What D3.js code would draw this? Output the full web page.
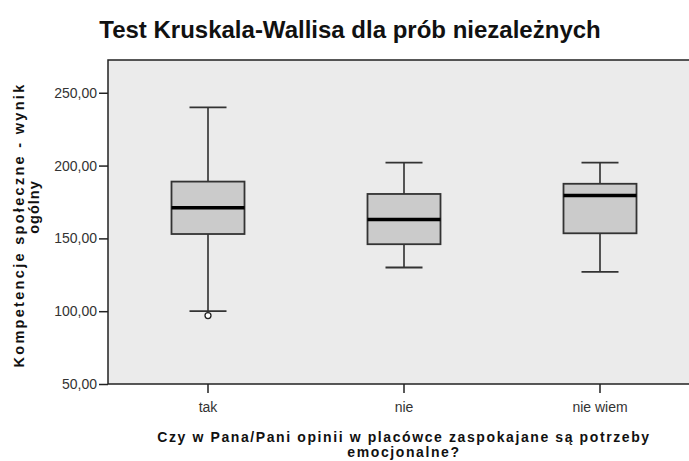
<!DOCTYPE html>
<html>
<head>
<meta charset="utf-8">
<script src="https://cdn.jsdelivr.net/npm/d3@7"></script>
<style>
  body { margin: 0; background: #fff; }
  svg { display: block; font-family: "Liberation Sans", Arial, sans-serif; }
</style>
</head>
<body>
<svg></svg>
<script>
var width = 689;
var height = 461;

// box plot values
var categories = ["tak", "nie", "nie wiem"];
var whiskerLow = [100, 130, 127];
var q1 = [153, 146, 153.5];
var median = [171, 163, 179.5];
var q3 = [189, 180.5, 187.5];
var whiskerHigh = [240, 202, 202];
var outliers = [[97], [], []];
var yTicks = [50, 100, 150, 200, 250];

var plot = { left: 108, top: 60, right: 692, bottom: 384 };

var svg = d3.select("svg")
  .attr("width", width)
  .attr("height", height);

var x = d3.scaleBand()
  .domain(categories)
  .range([110, 698]);

var y = d3.scaleLinear()
  .domain([50, 272.5])
  .range([plot.bottom, plot.top]);

// title
svg.append("text")
  .attr("x", 350)
  .attr("y", 38)
  .attr("text-anchor", "middle")
  .attr("font-size", "24px")
  .attr("font-weight", "bold")
  .attr("fill", "#111")
  .text("Test Kruskala-Wallisa dla prób niezależnych");

// plot background
svg.append("rect")
  .attr("x", plot.left)
  .attr("y", plot.top)
  .attr("width", plot.right - plot.left)
  .attr("height", plot.bottom - plot.top)
  .attr("fill", "#ebebeb")
  .attr("stroke", "#222")
  .attr("stroke-width", 1.5);

var fmt = function (d) { return d3.format(".2f")(d).replace(".", ","); };

var yAxis = svg.append("g")
  .attr("transform", "translate(" + plot.left + ",0)")
  .call(d3.axisLeft(y).tickValues(yTicks).tickFormat(fmt).tickSize(9).tickPadding(2));

var xAxis = svg.append("g")
  .attr("transform", "translate(0," + plot.bottom + ")")
  .call(d3.axisBottom(x).tickSize(9).tickPadding(9));

[yAxis, xAxis].forEach(function (ax) {
  ax.select(".domain").remove();
  ax.selectAll(".tick line").attr("stroke", "#222").attr("stroke-width", 1.5);
  ax.selectAll(".tick text")
    .attr("fill", "#333")
    .attr("font-size", "14px")
    .attr("font-family", "Liberation Sans, Arial, sans-serif");
});

// boxes
var boxW = 73;
var capW = 37;
var g = svg.append("g");

categories.forEach(function (c, i) {
  var cx = x(c) + x.bandwidth() / 2;

  g.append("line")
    .attr("x1", cx).attr("x2", cx)
    .attr("y1", y(whiskerHigh[i])).attr("y2", y(q3[i]))
    .attr("stroke", "#222").attr("stroke-width", 1.5);
  g.append("line")
    .attr("x1", cx).attr("x2", cx)
    .attr("y1", y(q1[i])).attr("y2", y(whiskerLow[i]))
    .attr("stroke", "#222").attr("stroke-width", 1.5);

  [whiskerHigh[i], whiskerLow[i]].forEach(function (v) {
    g.append("line")
      .attr("x1", cx - capW / 2).attr("x2", cx + capW / 2)
      .attr("y1", y(v)).attr("y2", y(v))
      .attr("stroke", "#333").attr("stroke-width", 1.8);
  });

  g.append("rect")
    .attr("x", cx - boxW / 2)
    .attr("y", y(q3[i]))
    .attr("width", boxW)
    .attr("height", y(q1[i]) - y(q3[i]))
    .attr("fill", "#cbcbcb")
    .attr("stroke", "#333")
    .attr("stroke-width", 1.8);

  g.append("line")
    .attr("x1", cx - boxW / 2).attr("x2", cx + boxW / 2)
    .attr("y1", y(median[i])).attr("y2", y(median[i]))
    .attr("stroke", "#000").attr("stroke-width", 3.5);

  outliers[i].forEach(function (v) {
    g.append("circle")
      .attr("cx", cx).attr("cy", y(v))
      .attr("r", 3)
      .attr("fill", "#fff")
      .attr("stroke", "#222")
      .attr("stroke-width", 1.3);
  });
});

// axis titles
var yTitle = svg.append("text")
  .attr("transform", "translate(24,225) rotate(-90)")
  .attr("text-anchor", "middle")
  .attr("font-size", "14.5px")
  .attr("font-weight", "bold")
  .attr("fill", "#111");
yTitle.append("tspan").attr("x", 0).attr("dy", 0)
  .attr("letter-spacing", "2.3px")
  .text("Kompetencje społeczne - wynik");
yTitle.append("tspan").attr("x", 18).attr("dy", 15)
  .attr("letter-spacing", "1px")
  .text("ogólny");

var xTitle = svg.append("text")
  .attr("x", 404)
  .attr("y", 442)
  .attr("text-anchor", "middle")
  .attr("font-size", "14px")
  .attr("font-weight", "bold")
  .attr("letter-spacing", "1.6px")
  .attr("fill", "#111");
xTitle.append("tspan").attr("x", 404).attr("dy", 0).text("Czy w Pana/Pani opinii w placówce zaspokajane są potrzeby");
xTitle.append("tspan").attr("x", 404).attr("dy", 15).text("emocjonalne?");
</script>
</body>
</html>
